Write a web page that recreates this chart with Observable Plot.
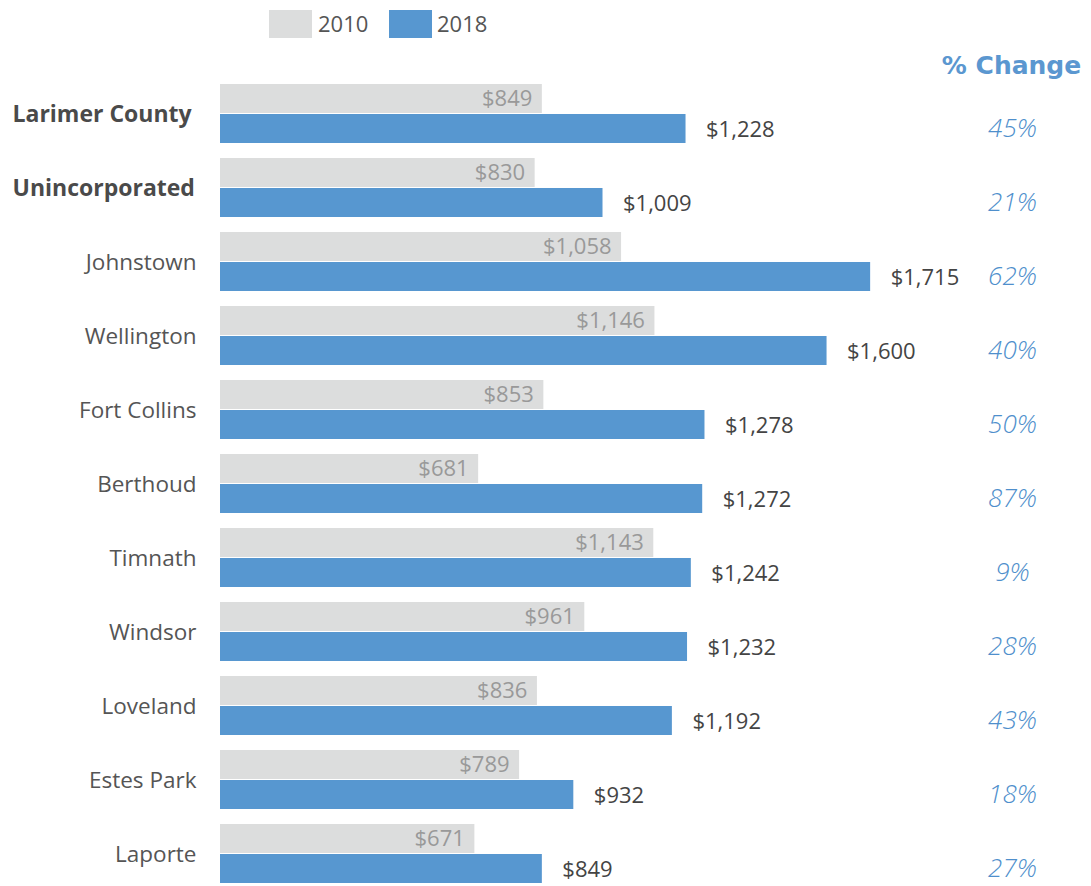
<!DOCTYPE html>
<html>
<head>
<meta charset="utf-8">
<script src="https://cdn.jsdelivr.net/npm/d3@7"></script>
<script src="https://cdn.jsdelivr.net/npm/@observablehq/plot@0.6"></script>
<style>
  html, body { margin: 0; padding: 0; background: #fff; overflow: hidden; }
  body { width: 1091px; height: 886px; font-family: "Open Sans", sans-serif; }
  #legend { position: relative; height: 48px; }
  .sw { position: absolute; top: 10px; width: 43px; height: 28px; }
  .lt { position: absolute; top: 8px; font-size: 22px; color: #555; line-height: 30px; }
  #chart svg { display: block; }
</style>
</head>
<body>
<div id="legend">
  <div class="sw" style="left:269px;background:#dcdddd"></div>
  <div class="lt" style="left:318px">2010</div>
  <div class="sw" style="left:389px;background:#5797d0"></div>
  <div class="lt" style="left:437px">2018</div>
</div>
<div id="chart"></div>
<script>
const cities = ["Larimer County", "Unincorporated", "Johnstown", "Wellington", "Fort Collins", "Berthoud", "Timnath", "Windsor", "Loveland", "Estes Park", "Laporte"];
const rent2010 = [849, 830, 1058, 1146, 853, 681, 1143, 961, 836, 789, 671];
const rent2018 = [1228, 1009, 1715, 1600, 1278, 1272, 1242, 1232, 1192, 932, 849];
const pctChange = ["45%", "21%", "62%", "40%", "50%", "87%", "9%", "28%", "43%", "18%", "27%"];
const boldCities = ["Larimer County", "Unincorporated"];
const years = ["2010", "2018"];

const rows = cities.map((c, i) => ({city: c, v2010: rent2010[i], v2018: rent2018[i], pct: pctChange[i]}));
const long = rows.flatMap(r => [
  {city: r.city, year: "2010", value: r.v2010},
  {city: r.city, year: "2018", value: r.v2018}
]);
const fmt = d3.format(",");
const money = d => "$" + fmt(d.value);

const chart = Plot.plot({
  width: 1091,
  height: 853,
  marginLeft: 220,
  marginRight: 37,
  marginTop: 19,
  marginBottom: 0,
  style: {fontFamily: "Open Sans", fontSize: "22px", background: "white"},
  x: {domain: [0, 2200], axis: null},
  y: {domain: years, paddingInner: 0.02, paddingOuter: 0, axis: null},
  fy: {domain: cities, paddingInner: 0.19, paddingOuter: 0.19, axis: null, label: null},
  color: {domain: years, range: ["#dcdddd", "#5797d0"]},
  marks: [
    Plot.barX(long, {x: "value", y: "year", fy: "city", fill: "year"}),
    Plot.text(long.filter(d => d.year === "2010"), {
      x: "value", y: "year", fy: "city", text: money,
      textAnchor: "end", dx: -10, fill: "#999999", fontSize: 22
    }),
    Plot.text(long.filter(d => d.year === "2018"), {
      x: "value", y: "year", fy: "city", text: money,
      textAnchor: "start", dx: 20, dy: 1, fill: "#444444", fontSize: 22
    }),
    Plot.text(rows.filter(r => !boldCities.includes(r.city)), {
      fy: "city", text: "city", frameAnchor: "left", textAnchor: "end",
      dx: -24, fill: "#555555", fontSize: 22.5
    }),
    Plot.text(rows.filter(r => boldCities.includes(r.city)), {
      fy: "city", text: "city", frameAnchor: "left", textAnchor: "start",
      dx: -208, fill: "#4a4a4a", fontSize: 23, fontWeight: "bold"
    }),
    Plot.text(rows, {
      fy: "city", y: () => "2018", text: "pct", frameAnchor: "right",
      textAnchor: "middle", dx: -42, dy: 0, fill: "#4f8fcc", fontSize: 26,
      fontStyle: "italic", fontWeight: 300, fontFamily: "Open Sans"
    }),
    Plot.text([cities[0]], {
      fy: d => d, text: () => "% Change", frameAnchor: "top-right",
      textAnchor: "middle", lineAnchor: "middle", dx: -43, dy: -19,
      fill: "#5b97d0", fontSize: 25, fontWeight: "bold", fontFamily: "DejaVu Sans"
    })
  ]
});
document.getElementById("chart").appendChild(chart);
</script>
</body>
</html>
